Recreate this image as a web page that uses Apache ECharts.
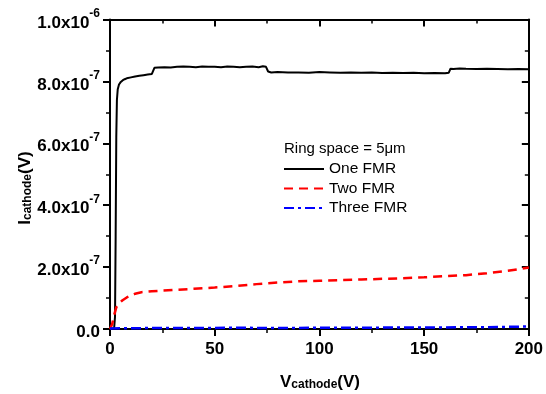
<!DOCTYPE html>
<html>
<head>
<meta charset="utf-8">
<script src="https://cdn.jsdelivr.net/npm/echarts@6/dist/echarts.min.js"></script>
<style>
  html, body { margin: 0; padding: 0; background: #fff; }
  #chart { width: 546px; height: 394px; }
</style>
</head>
<body>
<div id="chart"></div>
<script>
// values in units of 1e-7 A
const oneX = [0, 1, 2, 2.4, 2.7, 3, 3.3, 3.7, 4.3, 5, 6, 7, 8, 10, 12, 14, 16, 18, 20, 20.6,
  21.2, 23, 26, 29, 32, 35, 38, 41, 44, 47, 50, 53, 56, 59, 62, 65, 68, 71, 73, 74.5,
  75.5, 77, 80, 85, 90, 95, 100, 105, 110, 115, 120, 125, 130, 135, 140, 145, 150, 155, 160, 161.8,
  162.6, 164, 167, 170, 175, 180, 185, 190, 195, 200]
const oneY = [0, 0, 0.05, 0.4, 3.0, 6.2, 7.4, 7.75, 7.9, 7.97, 8.03, 8.07, 8.1, 8.13, 8.16, 8.18, 8.2, 8.22, 8.24, 8.27,
  8.44, 8.45, 8.46, 8.45, 8.47, 8.48, 8.47, 8.46, 8.48, 8.47, 8.47, 8.46, 8.48, 8.47, 8.46, 8.47, 8.48, 8.46, 8.49, 8.47,
  8.32, 8.29, 8.30, 8.29, 8.29, 8.28, 8.30, 8.29, 8.28, 8.29, 8.28, 8.29, 8.27, 8.28, 8.27, 8.28, 8.26, 8.27, 8.26, 8.28,
  8.41, 8.40, 8.42, 8.41, 8.40, 8.41, 8.40, 8.39, 8.40, 8.39]

const twoX = [0, 0.5, 1, 1.5, 2, 3, 4, 5, 6, 8, 10, 12, 15, 20, 25, 30, 40, 50, 60, 70,
  80, 90, 100, 110, 120, 130, 140, 150, 160, 170, 180, 190, 195, 200]
const twoY = [0, 0.05, 0.15, 0.3, 0.45, 0.7, 0.8, 0.87, 0.93, 1.02, 1.08, 1.14, 1.19, 1.22, 1.24, 1.26, 1.3, 1.34, 1.39, 1.45,
  1.5, 1.54, 1.56, 1.58, 1.6, 1.62, 1.64, 1.67, 1.71, 1.74, 1.8, 1.88, 1.93, 1.99]

const threeX = [0, 20, 40, 60, 80, 100, 120, 140, 160, 180, 190, 200]
const threeY = [0.02, 0.03, 0.03, 0.04, 0.03, 0.04, 0.04, 0.05, 0.05, 0.06, 0.07, 0.08]

const seriesNames = ['One FMR', 'Two FMR', 'Three FMR']
const legendTitle = 'Ring space = 5\u03bcm'

const FONT = '"Liberation Sans", Arial, sans-serif'

function pairs(xs, ys) {
  return xs.map((x, i) => [x, ys[i] * 1e-7])
}

// 1.0x10^-6 style labels
function yLabel(v) {
  if (Math.abs(v) < 1e-12) return '{b|0.0}'
  const e = Math.floor(Math.log10(v) + 1e-9)
  const m = v / Math.pow(10, e)
  return '{b|' + m.toFixed(1) + 'x10}{sup|' + e + '}'
}

const labelRich = {
  b: { fontSize: 17, fontWeight: 'bold', fontFamily: FONT, color: '#000', lineHeight: 24, verticalAlign: 'bottom' },
  sup: { fontSize: 12, fontWeight: 'bold', fontFamily: FONT, color: '#000', lineHeight: 10, verticalAlign: 'top' },
  sub: { fontSize: 12, fontWeight: 'bold', fontFamily: FONT, color: '#000', lineHeight: 12, verticalAlign: 'bottom' }
}

// top/right axes mirror bottom/left with inward ticks (onZero off so they stay on the frame)
function tickParts(inside) {
  return {
    axisLine: { show: true, onZero: false, lineStyle: { color: '#000', width: 2 } },
    axisTick: { show: true, inside: inside, length: 7, lineStyle: { color: '#000', width: 2 } },
    minorTick: { show: true, splitNumber: 2, length: 4, lineStyle: { color: '#000', width: 1.5 } },
    splitLine: { show: false },
    minorSplitLine: { show: false }
  }
}

function xAxisOf(pos, inside) {
  return Object.assign({
    type: 'value', position: pos, min: 0, max: 200, interval: 50,
    axisLabel: { show: !inside, margin: 12, color: '#000', fontSize: 17, fontWeight: 'bold', fontFamily: FONT }
  }, tickParts(inside))
}

function yAxisOf(pos, inside) {
  return Object.assign({
    type: 'value', position: pos, min: 0, max: 1e-6, interval: 2e-7,
    axisLabel: { show: !inside, margin: 10, formatter: yLabel, rich: labelRich }
  }, tickParts(inside))
}

const chart = echarts.init(document.getElementById('chart'))

chart.setOption({
  animation: false,
  backgroundColor: '#fff',
  grid: { left: 110, right: 15, top: 19.5, bottom: 65 },
  xAxis: [xAxisOf('bottom', false), xAxisOf('top', true)],
  yAxis: [yAxisOf('left', false), yAxisOf('right', true)],
  legend: {
    data: seriesNames,
    orient: 'vertical',
    left: 283, top: 161, padding: 0,
    itemWidth: 40, itemHeight: 14, itemGap: 3.5,
    itemStyle: { opacity: 0 },
    textStyle: { fontSize: 15.5, fontFamily: FONT, color: '#000' }
  },
  graphic: [
    {
      type: 'text', left: 284, top: 141,
      style: { text: legendTitle, font: '15px ' + FONT, fill: '#000' }
    },
    {
      type: 'text', x: 320, y: 379,
      style: {
        text: '{b|V}{sub|cathode}{b|(V)}', rich: labelRich,
        align: 'center', verticalAlign: 'middle'
      }
    },
    {
      type: 'text', x: 22, y: 188, rotation: Math.PI / 2,
      style: {
        text: '{b|I}{sub|cathode}{b|(V)}', rich: labelRich,
        align: 'center', verticalAlign: 'middle'
      }
    }
  ],
  series: [
    {
      name: seriesNames[0], type: 'line', data: pairs(oneX, oneY),
      symbol: 'none', clip: false, z: 3,
      lineStyle: { color: '#000', width: 2 }, itemStyle: { color: '#000' }
    },
    {
      name: seriesNames[1], type: 'line', data: pairs(twoX, twoY),
      symbol: 'none', clip: false, z: 4,
      lineStyle: { color: '#ff0000', width: 2.5, type: [9, 6] }, itemStyle: { color: '#ff0000' }
    },
    {
      name: seriesNames[2], type: 'line', data: pairs(threeX, threeY),
      symbol: 'none', clip: false, z: 5,
      lineStyle: { color: '#0000ff', width: 2.5, type: [10, 4, 3, 4] }, itemStyle: { color: '#0000ff' }
    }
  ]
})
</script>
</body>
</html>
